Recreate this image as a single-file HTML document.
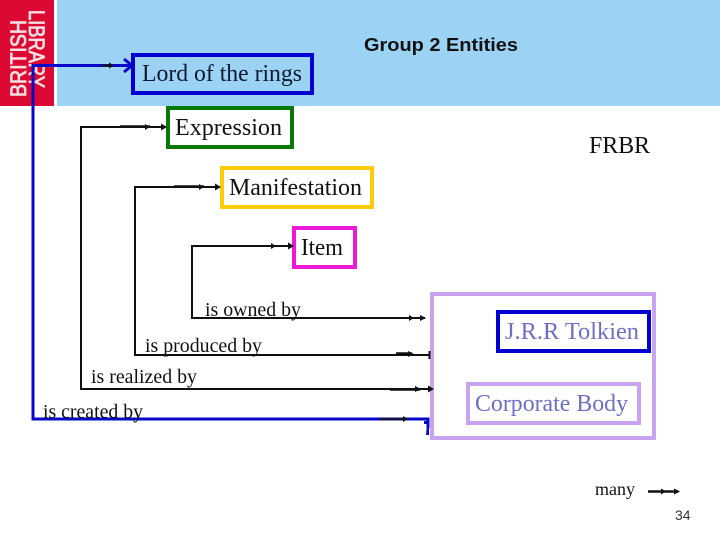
<!DOCTYPE html>
<html><head><meta charset="utf-8">
<style>
html,body{margin:0;padding:0;background:#fff}
svg{display:block}
.s{font-family:"Liberation Serif",serif}
.a{font-family:"Liberation Sans",sans-serif}
</style></head><body>
<svg width="720" height="540" viewBox="0 0 720 540" xmlns="http://www.w3.org/2000/svg">
<rect width="720" height="540" fill="#fff"/>
<rect x="57" y="0" width="663" height="106" fill="#9cd2f4"/>
<rect x="0" y="0" width="54" height="106" fill="#dc0a32"/>
<text class="a" transform="translate(26,97) rotate(-90)" font-size="22" fill="#f6dfe3" stroke="#f6dfe3" stroke-width="0.8" textLength="77" lengthAdjust="spacingAndGlyphs">BRITISH</text>
<text class="a" transform="translate(29,10) rotate(90)" font-size="22" fill="#f6dfe3" stroke="#f6dfe3" stroke-width="0.8" textLength="78" lengthAdjust="spacingAndGlyphs">LIBRARY</text>

<text class="a" x="364" y="51" font-size="18" font-weight="bold" fill="#111" textLength="154" lengthAdjust="spacingAndGlyphs">Group 2 Entities</text>
<text class="s" x="589" y="153" font-size="24" fill="#111" textLength="61">FRBR</text>

<!-- boxes -->
<rect x="133" y="55" width="179" height="38" fill="none" stroke="#0000d0" stroke-width="4"/>
<text class="s" x="142" y="81" font-size="24" fill="#0a1a30" textLength="160" lengthAdjust="spacingAndGlyphs">Lord of the rings</text>
<rect x="168" y="108" width="124" height="39" fill="#fff" stroke="#087808" stroke-width="4"/>
<text class="s" x="175" y="135" font-size="24" fill="#111" textLength="107" lengthAdjust="spacingAndGlyphs">Expression</text>
<rect x="222" y="168" width="150" height="39" fill="#fff" stroke="#fccc0a" stroke-width="4"/>
<text class="s" x="229" y="195" font-size="24" fill="#111" textLength="133" lengthAdjust="spacingAndGlyphs">Manifestation</text>
<rect x="294" y="228" width="61" height="39" fill="#fff" stroke="#ee18d8" stroke-width="4"/>
<text class="s" x="301" y="255" font-size="24" fill="#111" textLength="42" lengthAdjust="spacingAndGlyphs">Item</text>

<rect x="432" y="294" width="222" height="144" fill="#fff" stroke="#c8a4f0" stroke-width="4"/>
<rect x="498" y="312" width="151" height="39" fill="#fff" stroke="#0000d0" stroke-width="4"/>
<text class="s" x="505" y="339" font-size="24" fill="#6e6ec4" textLength="134" lengthAdjust="spacingAndGlyphs">J.R.R Tolkien</text>
<rect x="468" y="384" width="171" height="39" fill="#fff" stroke="#c8a4f0" stroke-width="4"/>
<text class="s" x="475" y="411" font-size="24" fill="#6e6ec4" textLength="153" lengthAdjust="spacingAndGlyphs">Corporate Body</text>

<!-- blue connector -->
<g fill="none" stroke="#0808c8" stroke-width="3">
<path d="M33 419.500V65.500H132"/>
<path d="M31.500 419H428V428"/>
<path d="M124 59l8 6.500-8 6.500"/>
</g>
<path d="M424 421h4v3h-4zM427 424h2v11h-3z" fill="#0808c8"/>

<!-- connectors -->
<g fill="none" stroke="#111" stroke-width="2">
<path d="M81 389V127H164"/>
<path d="M80 389H430"/>
<path d="M135 355V187H218"/>
<path d="M134 355H430"/>
<path d="M192 319V246H293"/>
<path d="M191 318H425"/>
<path d="M120 126.500H150M174 186.500H204M396 353.500H412M390 389.500H420M648 491.500H678" stroke-width="2.500"/>
<path d="M380 419H406" stroke="#10104a" stroke-width="3"/>
<path d="M102 65.500H112" stroke="#10104a" stroke-width="3"/>
<path d="M429.500 351V359"/>
</g>
<g fill="#111">
<path d="M167 127l-6-3.500v7z"/><path d="M150 127l-5-3v6z"/>
<path d="M221 187l-6-3.500v7z"/><path d="M204 187l-5-3v6z"/>
<path d="M294 246l-6-3.500v7z"/><path d="M276 246l-5-3v6z"/>
<path d="M426 318l-6-3v6z"/><path d="M414 318l-5-3v6z"/>
<path d="M414 354l-6-3v6z"/>
<path d="M421 389l-6-3v6z"/><path d="M434 389l-6-3.500v7z"/>
<path d="M408 419l-5-3v6z"/>
<path d="M680 491.500l-6-3v6z"/><path d="M666 491.500l-5-3v6z"/>
<path d="M114 65.500l-5-3v6z"/>
</g>

<!-- labels -->
<text class="s" x="205" y="316" font-size="20" fill="#111" textLength="96" lengthAdjust="spacingAndGlyphs">is owned by</text>
<text class="s" x="145" y="352" font-size="20" fill="#111" textLength="117" lengthAdjust="spacingAndGlyphs">is produced by</text>
<text class="s" x="91" y="383" font-size="20" fill="#111" textLength="106" lengthAdjust="spacingAndGlyphs">is realized by</text>
<text class="s" x="43" y="418" font-size="20" fill="#111" textLength="100" lengthAdjust="spacingAndGlyphs">is created by</text>
<text class="s" x="595" y="495" font-size="18" fill="#111" textLength="40" lengthAdjust="spacingAndGlyphs">many</text>
<text class="a" x="675" y="520" font-size="14" fill="#333">34</text>
</svg>
</body></html>
